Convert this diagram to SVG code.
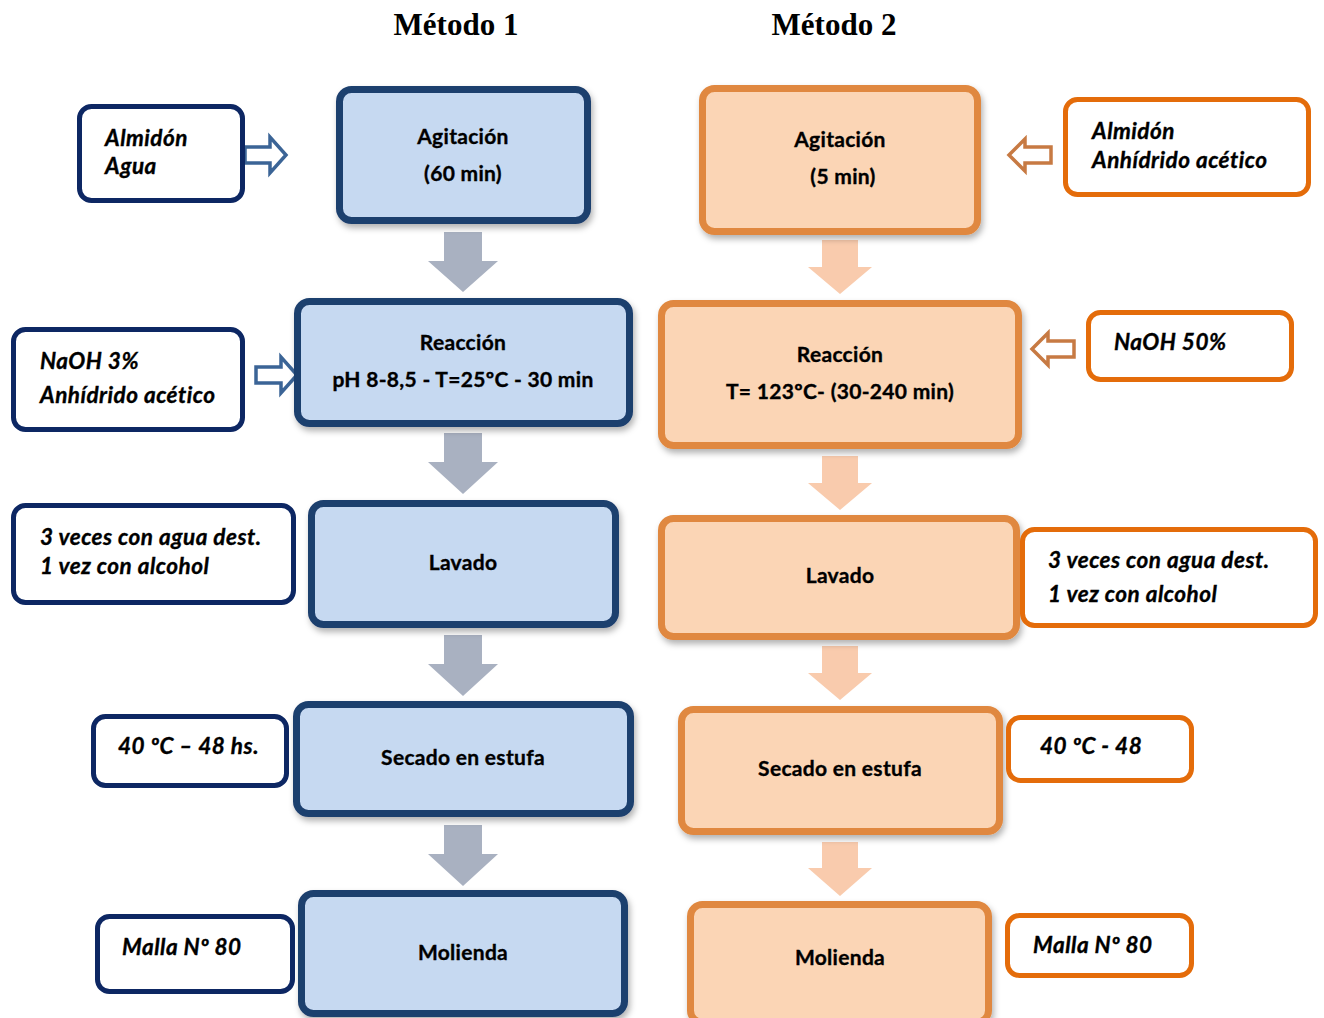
<svg xmlns="http://www.w3.org/2000/svg" width="1324" height="1018" viewBox="0 0 1324 1018">
<defs>
<filter id="sh" x="-10%" y="-10%" width="125%" height="130%">
<feDropShadow dx="2" dy="4" stdDeviation="3" flood-color="#000" flood-opacity="0.3"/>
</filter>
</defs>
<style>
.title{font-family:"Liberation Serif",serif;font-weight:bold;font-size:31px;fill:#000;text-anchor:middle}
.bbox{fill:#c6d9f1;stroke:#1f3f6e;stroke-width:7}
.obox{fill:#fbd5b5;stroke:#e0883f;stroke-width:7}
.bin{fill:#fff;stroke:#0d2763;stroke-width:5}
.oin{fill:#fff;stroke:#e46c0a;stroke-width:5}
.lbl{font-family:Lato,"Liberation Sans",sans-serif;font-weight:bold;font-size:21px;letter-spacing:0.3px;fill:#000;stroke:#000;stroke-width:0.35;text-anchor:middle}
.itl{font-family:Lato,"Liberation Sans",sans-serif;font-weight:bold;font-style:italic;font-size:22.5px;letter-spacing:0.5px;fill:#000;stroke:#000;stroke-width:0.35}
.garr{fill:#a9b1c1}
.parr{fill:#f9cbad}
.bho{fill:#fff;stroke:#3b6496;stroke-width:3.5;stroke-linejoin:miter}
.oho{fill:#fff;stroke:#c77a43;stroke-width:3.5;stroke-linejoin:miter}
</style>
<rect width="1324" height="1018" fill="#fff"/>
<text class="title" x="456" y="35">Método 1</text>
<text class="title" x="834" y="35">Método 2</text>

<g id="connectors">
<path class="garr" d="M444,232 H482 V261 H498 L463,292 L428,261 H444 Z"/>
<path class="garr" d="M444,433 H482 V462 H498 L463,494 L428,462 H444 Z"/>
<path class="garr" d="M444,635 H482 V664 H498 L463,696 L428,664 H444 Z"/>
<path class="garr" d="M444,825 H482 V854 H498 L463,886 L428,854 H444 Z"/>
<path class="parr" d="M822,240 H858 V267 H872 L840,294 L808,267 H822 Z"/>
<path class="parr" d="M822,456 H858 V483 H872 L840,510 L808,483 H822 Z"/>
<path class="parr" d="M822,646 H858 V673 H872 L840,700 L808,673 H822 Z"/>
<path class="parr" d="M822,842 H858 V868 H872 L840,896 L808,868 H822 Z"/>
<path class="bho" d="M245,147 H270 V137 L286,155 L270,173 V163 H245 Z"/>
<path class="bho" d="M256,367 H281 V357 L297,375 L281,393 V383 H256 Z"/>
<path class="oho" d="M1051,147 H1025 V139 L1009,155 L1025,171 V163 H1051 Z"/>
<path class="oho" d="M1074,341 H1048 V333 L1032,349 L1048,365 V357 H1074 Z"/>
</g>

<g id="m1-agitacion"><rect class="bbox" filter="url(#sh)" x="339.5" y="89.5" width="248" height="131" rx="12"/>
<text class="lbl" x="463" y="144">Agitación</text><text class="lbl" x="463" y="181">(60 min)</text></g>
<g id="m1-reaccion"><rect class="bbox" filter="url(#sh)" x="297.5" y="301.5" width="332" height="122" rx="12"/>
<text class="lbl" x="463" y="350">Reacción</text><text class="lbl" x="463" y="387">pH 8-8,5 - T=25ºC - 30 min</text></g>
<g id="m1-lavado"><rect class="bbox" filter="url(#sh)" x="311.5" y="503.5" width="304" height="121" rx="12"/>
<text class="lbl" x="463" y="570">Lavado</text></g>
<g id="m1-secado"><rect class="bbox" filter="url(#sh)" x="296.5" y="704.5" width="334" height="109" rx="12"/>
<text class="lbl" x="463" y="765">Secado en estufa</text></g>
<g id="m1-molienda"><rect class="bbox" filter="url(#sh)" x="301.5" y="893.5" width="323" height="120" rx="12"/>
<text class="lbl" x="463" y="960">Molienda</text></g>

<g id="m1-in1"><rect class="bin" x="79.5" y="106.5" width="163" height="94" rx="12"/>
<text class="itl" x="105" y="146">Almidón</text><text class="itl" x="105" y="174">Agua</text></g>
<g id="m1-in2"><rect class="bin" x="13.5" y="329.5" width="229" height="100" rx="12"/>
<text class="itl" x="40" y="369">NaOH 3%</text><text class="itl" x="40" y="403">Anhídrido acético</text></g>
<g id="m1-in3"><rect class="bin" x="13.5" y="505.5" width="280" height="97" rx="12"/>
<text class="itl" x="40" y="545">3 veces con agua dest.</text><text class="itl" x="40" y="574">1 vez con alcohol</text></g>
<g id="m1-in4"><rect class="bin" x="93.5" y="716.5" width="193" height="69" rx="12"/>
<text class="itl" x="118" y="754">40 ºC – 48 hs.</text></g>
<g id="m1-in5"><rect class="bin" x="97.5" y="916.5" width="195" height="75" rx="12"/>
<text class="itl" x="122" y="955">Malla Nº 80</text></g>

<g id="m2-agitacion"><rect class="obox" filter="url(#sh)" x="702.5" y="88.5" width="275" height="143" rx="12"/>
<text class="lbl" x="840" y="147">Agitación</text><text class="lbl" x="843" y="184">(5 min)</text></g>
<g id="m2-reaccion"><rect class="obox" filter="url(#sh)" x="661.5" y="303.5" width="357" height="142" rx="12"/>
<text class="lbl" x="840" y="362">Reacción</text><text class="lbl" x="840" y="399">T= 123ºC- (30-240 min)</text></g>
<g id="m2-lavado"><rect class="obox" filter="url(#sh)" x="661.5" y="518.5" width="355" height="118" rx="12"/>
<text class="lbl" x="840" y="583">Lavado</text></g>
<g id="m2-secado"><rect class="obox" filter="url(#sh)" x="681.5" y="709.5" width="318" height="122" rx="12"/>
<text class="lbl" x="840" y="776">Secado en estufa</text></g>
<g id="m2-molienda"><rect class="obox" filter="url(#sh)" x="690.5" y="904.5" width="298" height="118" rx="12"/>
<text class="lbl" x="840" y="965">Molienda</text></g>

<g id="m2-in1"><rect class="oin" x="1065.5" y="99.5" width="243" height="95" rx="12"/>
<text class="itl" x="1092" y="139">Almidón</text><text class="itl" x="1092" y="168">Anhídrido acético</text></g>
<g id="m2-in2"><rect class="oin" x="1088.5" y="312.5" width="203" height="67" rx="12"/>
<text class="itl" x="1114" y="350">NaOH 50%</text></g>
<g id="m2-in3"><rect class="oin" x="1022.5" y="529.5" width="293" height="96" rx="12"/>
<text class="itl" x="1048" y="568">3 veces con agua dest.</text><text class="itl" x="1048" y="602">1 vez con alcohol</text></g>
<g id="m2-in4"><rect class="oin" x="1008.5" y="717.5" width="183" height="63" rx="12"/>
<text class="itl" x="1040" y="754">40 ºC - 48</text></g>
<g id="m2-in5"><rect class="oin" x="1007.5" y="915.5" width="184" height="60" rx="12"/>
<text class="itl" x="1033" y="953">Malla Nº 80</text></g>
</svg>
